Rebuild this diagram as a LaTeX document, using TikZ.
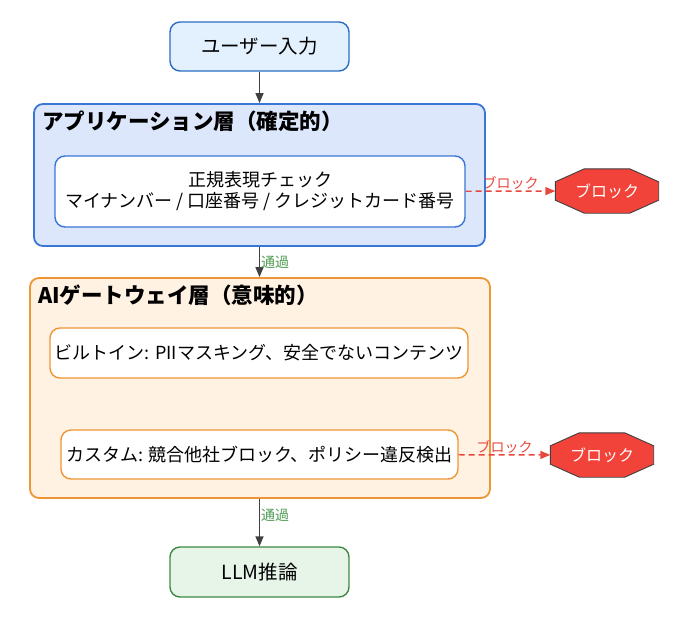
\documentclass[tikz,border=0pt]{standalone}
\usepackage{fontspec}
\setmainfont{Noto Sans CJK JP}
\usetikzlibrary{arrows.meta,backgrounds}
\definecolor{startfill}{HTML}{E3F0FD}
\definecolor{startline}{HTML}{2B6CC4}
\definecolor{appfill}{HTML}{DCE7FB}
\definecolor{appline}{HTML}{3A76D6}
\definecolor{gwfill}{HTML}{FFF2E2}
\definecolor{gwline}{HTML}{EE9535}
\definecolor{llmfill}{HTML}{E7F4E8}
\definecolor{llmline}{HTML}{3E8A42}
\definecolor{blockred}{HTML}{F1433A}
\definecolor{dashred}{HTML}{E8473E}
\definecolor{passgreen}{HTML}{4E9A50}
\definecolor{arrowgray}{HTML}{404040}
\begin{document}
\begin{tikzpicture}[x=1pt,y=-1pt,
    box/.style={draw,rounded corners=10pt,line width=1.4pt,inner sep=0pt,align=center,font=\fontsize{18}{21}\selectfont},
    endbox/.style={box,font=\fontsize{19.5}{22}\selectfont},
    layer/.style={draw,rounded corners=9pt,line width=1.8pt,inner sep=0pt},
    title/.style={anchor=west,inner sep=0pt,font=\fontsize{21.5}{24}\selectfont\bfseries},
    stop/.style={inner sep=0pt,minimum width=103pt,minimum height=44pt,text=white,font=\fontsize{16}{18}\selectfont},
    stopshape/.style={draw=black!75,fill=blockred,line width=0.9pt,line join=miter},
    flow/.style={draw=arrowgray,line width=1.4pt,-{Triangle[length=10pt,width=8pt]}},
    reject/.style={draw=dashred,line width=1.4pt,dash pattern=on 6pt off 4pt,-{Triangle[length=10pt,width=8pt]}},
    pass/.style={right,inner sep=1pt,text=passgreen,font=\fontsize{14}{16}\selectfont},
    rejlabel/.style={above,inner sep=1pt,text=dashred,font=\fontsize{14}{16}\selectfont}]
  \useasboundingbox (0,0) rectangle (680,619);
  % input / output
  \node[endbox,fill=startfill,draw=startline,minimum width=179pt,minimum height=49pt] (input) at (259.5,46.5) {ユーザー入力};
  \node[endbox,fill=llmfill,draw=llmline,minimum width=179pt,minimum height=50pt] (llm) at (259.5,572) {LLM推論};
  % application layer
  \node[layer,fill=appfill,draw=appline,minimum width=451pt,minimum height=142pt] (app) at (259.5,175) {};
  \node[title] (apptitle) at (42,121) {アプリケーション層（確定的）};
  \node[box,fill=white,draw=appline,minimum width=410pt,minimum height=71pt] (regex) at (260,191.5)
    {正規表現チェック\\マイナンバー / 口座番号 / クレジットカード番号};
  \node[stop] (block1) at (607,191) {ブロック};
  % gateway layer
  \node[layer,fill=gwfill,draw=gwline,minimum width=460pt,minimum height=220pt] (gw) at (260,388) {};
  \node[title] (gwtitle) at (38,295) {AIゲートウェイ層（意味的）};
  \node[box,fill=white,draw=gwline,minimum width=418pt,minimum height=50pt] (builtin) at (259,353) {ビルトイン: PIIマスキング、安全でないコンテンツ};
  \node[box,fill=white,draw=gwline,minimum width=397pt,minimum height=49pt] (custom) at (259.5,454.5) {カスタム: 競合他社ブロック、ポリシー違反検出};
  \node[stop] (block2) at (602,455) {ブロック};
  % octagons behind the block labels
  \begin{scope}[on background layer]
    \foreach \b in {block1,block2}
      \path[stopshape] ([xshift=29pt]\b.north west) -- ([xshift=-29pt]\b.north east) -- ([yshift=-13pt]\b.north east)
        -- ([yshift=13pt]\b.south east) -- ([xshift=-29pt]\b.south east) -- ([xshift=29pt]\b.south west)
        -- ([yshift=13pt]\b.south west) -- ([yshift=-13pt]\b.north west) -- cycle;
  \end{scope}
  % connectors
  \draw[flow] (input) -- (app.north -| input);
  \draw[flow] (app.south) -- node[pass,pos=0.5] {通過} (gw.north -| app.south);
  \draw[flow] (gw.south -| llm) -- node[pass,pos=0.35] {通過} (llm);
  \draw[reject] (regex) -- node[rejlabel] {ブロック} (block1);
  \draw[reject] (custom) -- node[rejlabel] {ブロック} (block2);
\end{tikzpicture}
\end{document}
